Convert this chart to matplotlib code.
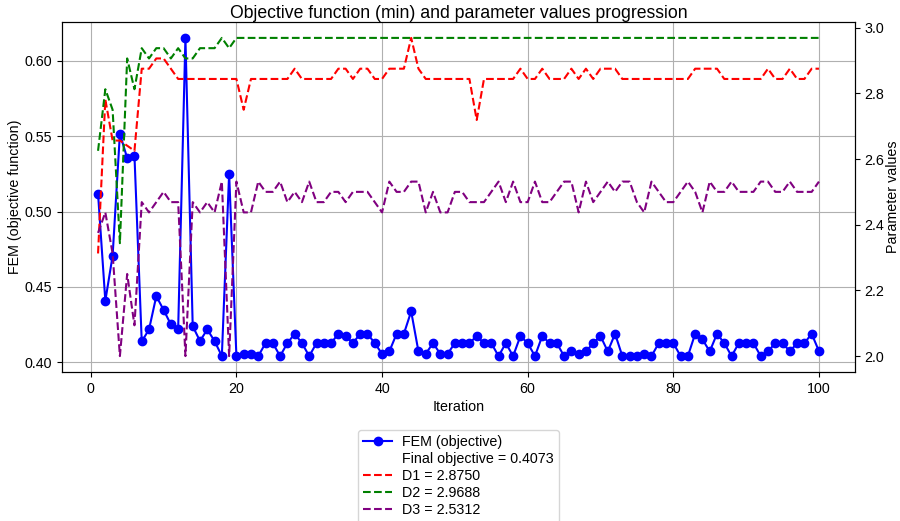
import matplotlib
matplotlib.use("Agg")
import matplotlib.pyplot as plt
import numpy as np

plt.rcParams['font.family'] = ['Liberation Sans', 'DejaVu Sans']
plt.rcParams['font.size'] = 10.3

iterations = list(range(1, 101))

fem = [
    0.5118, 0.4407, 0.4706, 0.5517, 0.5355, 0.5371, 0.4137, 0.4217, 0.4438, 0.4347,
    0.4250, 0.4217, 0.6153, 0.4239, 0.4140, 0.4217, 0.4140, 0.4040, 0.5251, 0.4040,
    0.4055, 0.4055, 0.4040, 0.4126, 0.4126, 0.4040, 0.4126, 0.4188, 0.4126, 0.4040,
    0.4126, 0.4126, 0.4126, 0.4188, 0.4173, 0.4126, 0.4188, 0.4188, 0.4126, 0.4055,
    0.4071, 0.4188, 0.4188, 0.4337, 0.4071, 0.4055, 0.4126, 0.4055, 0.4055, 0.4126,
    0.4126, 0.4126, 0.4173, 0.4126, 0.4126, 0.4040, 0.4126, 0.4040, 0.4173, 0.4126,
    0.4040, 0.4173, 0.4126, 0.4126, 0.4040, 0.4071, 0.4055, 0.4071, 0.4126, 0.4173,
    0.4071, 0.4188, 0.4040, 0.4040, 0.4040, 0.4055, 0.4040, 0.4126, 0.4126, 0.4126,
    0.4040, 0.4040, 0.4188, 0.4151, 0.4071, 0.4188, 0.4126, 0.4040, 0.4126, 0.4126,
    0.4126, 0.4040, 0.4071, 0.4126, 0.4126, 0.4071, 0.4126, 0.4126, 0.4188, 0.4073,
]

d1 = [
    2.3125, 2.78125, 2.65625, 2.65625, 2.640625, 2.625, 2.875, 2.875, 2.90625, 2.90625,
    2.875, 2.84375, 2.84375, 2.84375, 2.84375, 2.84375, 2.84375, 2.84375, 2.84375, 2.84375,
    2.75, 2.84375, 2.84375, 2.84375, 2.84375, 2.84375, 2.84375, 2.875, 2.84375, 2.84375,
    2.84375, 2.84375, 2.84375, 2.875, 2.875, 2.84375, 2.875, 2.875, 2.84375, 2.84375,
    2.875, 2.875, 2.875, 2.96875, 2.875, 2.84375, 2.84375, 2.84375, 2.84375, 2.84375,
    2.84375, 2.84375, 2.71875, 2.84375, 2.84375, 2.84375, 2.84375, 2.84375, 2.875, 2.84375,
    2.84375, 2.875, 2.84375, 2.84375, 2.84375, 2.875, 2.84375, 2.875, 2.84375, 2.875,
    2.875, 2.875, 2.84375, 2.84375, 2.84375, 2.84375, 2.84375, 2.84375, 2.84375, 2.84375,
    2.84375, 2.84375, 2.875, 2.875, 2.875, 2.875, 2.84375, 2.84375, 2.84375, 2.84375,
    2.84375, 2.84375, 2.875, 2.84375, 2.84375, 2.875, 2.84375, 2.84375, 2.875, 2.875,
]

d2 = [
    2.625, 2.8125, 2.75, 2.34375, 2.90625, 2.8125, 2.9375, 2.90625, 2.9375, 2.9375,
    2.90625, 2.9375, 2.90625, 2.90625, 2.9375, 2.9375, 2.9375, 2.96875, 2.9375, 2.96875,
] + [2.96875] * 80

d3 = [
    2.375, 2.4375, 2.3125, 2.0, 2.25, 2.09375, 2.46875, 2.4375, 2.46875, 2.5,
    2.46875, 2.46875, 2.0, 2.46875, 2.4375, 2.46875, 2.4375, 2.53125, 2.0, 2.53125,
    2.4375, 2.4375, 2.53125, 2.5, 2.5, 2.53125, 2.46875, 2.5, 2.46875, 2.53125,
    2.46875, 2.46875, 2.5, 2.5, 2.46875, 2.5, 2.5, 2.5, 2.46875, 2.4375,
    2.53125, 2.5, 2.5, 2.53125, 2.53125, 2.4375, 2.5, 2.4375, 2.4375, 2.5,
    2.5, 2.46875, 2.46875, 2.46875, 2.5, 2.53125, 2.46875, 2.53125, 2.46875, 2.46875,
    2.53125, 2.46875, 2.46875, 2.5, 2.53125, 2.53125, 2.4375, 2.53125, 2.46875, 2.5,
    2.53125, 2.5, 2.53125, 2.53125, 2.46875, 2.4375, 2.53125, 2.5, 2.46875, 2.46875,
    2.5, 2.53125, 2.5, 2.4375, 2.53125, 2.5, 2.5, 2.53125, 2.5, 2.5,
    2.5, 2.53125, 2.53125, 2.5, 2.5, 2.53125, 2.5, 2.5, 2.5, 2.53125,
]

fig = plt.figure(figsize=(9.0, 5.21), dpi=100)
ax = fig.add_axes([62 / 900, 1 - 372 / 521, (855 - 62) / 900, (372 - 22) / 521])

fem_line, = ax.plot(iterations, fem, color='blue', marker='o', markersize=6,
                    linewidth=1.5, label='FEM (objective)')
final_handle, = ax.plot([], [], ' ', label=f'Final objective = {fem[-1]:.4f}')
ax.set_xlabel('Iteration', labelpad=3)
ax.set_ylabel('FEM (objective function)', labelpad=2)
ax.grid(True)
ax.set_title('Objective function (min) and parameter values progression',
             fontsize=12.7, pad=3)

ax2 = ax.twinx()
l1, = ax2.plot(iterations, d1, '--', color='red', linewidth=1.5, label=f'D1 = {d1[-1]:.4f}')
l2, = ax2.plot(iterations, d2, '--', color='green', linewidth=1.5, label=f'D2 = {d2[-1]:.4f}')
l3, = ax2.plot(iterations, d3, '--', color='purple', linewidth=1.5, label=f'D3 = {d3[-1]:.4f}')
ax2.set_ylabel('Parameter values', labelpad=1)

handles = [fem_line, final_handle, l1, l2, l3]
ax.legend(handles, [h.get_label() for h in handles], loc='upper center',
          bbox_to_anchor=(0.5, -0.145), ncol=1, labelspacing=0.22,
          borderpad=0.35, handletextpad=0.7)

fig.savefig('out.png', dpi=100)
